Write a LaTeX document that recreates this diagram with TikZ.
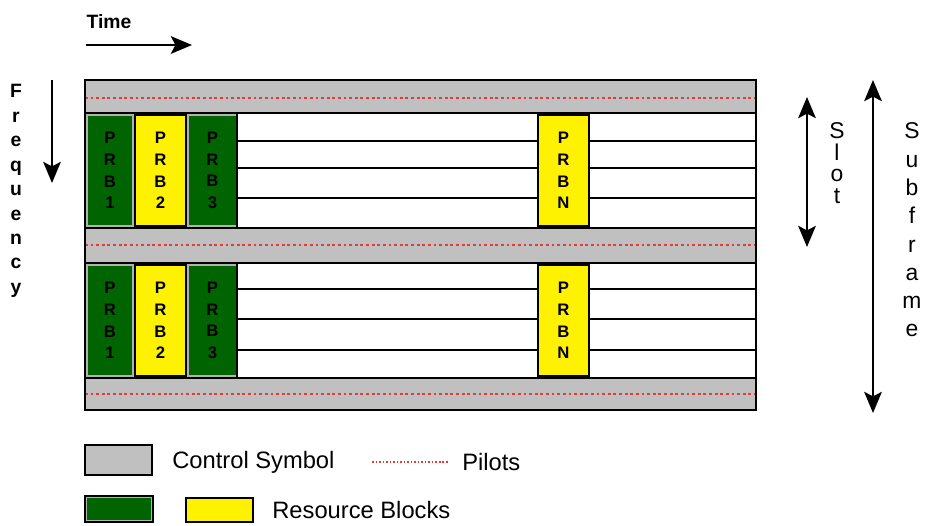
\documentclass[tikz,border=0pt]{standalone}
\usepackage{fontspec}
\setmainfont{Liberation Sans}
\usetikzlibrary{arrows.meta,positioning}
\usepackage{xcolor}
\definecolor{ctrlgray}{RGB}{192,192,192}
\definecolor{rbgreen}{RGB}{0,100,0}
\definecolor{pilotred}{RGB}{225,60,60}

\begin{document}
\begin{tikzpicture}[x=0.02cm,y=-0.02cm]
      \tikzstyle{band} = [fill=ctrlgray]
      \tikzstyle{pilot} = [draw=pilotred, line width=0.7pt, dash pattern=on 1.6pt off 1.6pt]
      \tikzstyle{prb} = [rectangle, inner sep=0pt, minimum height=2.22cm, align=center, font=\bfseries\fontsize{9.5}{12.3}\selectfont]
      \tikzstyle{prbg} = [prb, fill=rbgreen, draw=gray!60, line width=0.6pt]
      \tikzstyle{prby} = [prb, fill=yellow, draw=black, line width=0.6pt]
      \tikzstyle{arr} = [line width=1.2pt, -{Stealth[length=12pt, width=10pt, inset=2.5pt]}]
      \tikzstyle{darr} = [line width=1.2pt, {Stealth[length=12pt, width=10pt, inset=2.5pt]}-{Stealth[length=12pt, width=10pt, inset=2.5pt]}]
      \tikzstyle{legtext} = [anchor=west, inner sep=0pt, font=\fontsize{13.5}{16}\selectfont]
      
      \useasboundingbox (0,0) rectangle (926,525);
      
      \fill[band] (85,80) rectangle (756,113);
      \fill[band] (85,228) rectangle (756,263);
      \fill[band] (85,378) rectangle (756,410);
      \draw[pilot] (85,98) -- (756,98);
      \draw[pilot] (85,245) -- (756,245);
      \draw[pilot] (85,394) -- (756,394);
      \foreach \y in {113,228,263,378}
        \draw[line width=0.8pt] (85,\y) -- (756,\y);
      
      \node[prbg, minimum width=0.92cm] (prb1a) at (110,170.5) {P\\R\\B\\1};
      \node[prby, minimum width=1.02cm] (prb2a) at (160.5,170.5) {P\\R\\B\\2};
      \node[prbg, minimum width=0.98cm] (prb3a) at (212.5,170.5) {P\\R\\B\\3};
      \node[prby, minimum width=1.02cm] (prbNa) at (563.5,170.5) {P\\R\\B\\N};
      
      \node[prbg, minimum width=0.92cm] (prb1b) at (110,320.5) {P\\R\\B\\1};
      \node[prby, minimum width=1.02cm] (prb2b) at (160.5,320.5) {P\\R\\B\\2};
      \node[prbg, minimum width=0.98cm] (prb3b) at (212.5,320.5) {P\\R\\B\\3};
      \node[prby, minimum width=1.02cm] (prbNb) at (563.5,320.5) {P\\R\\B\\N};
      
      \draw[line width=0.8pt] (237,113) -- (237,228);
      \draw[line width=0.8pt] (237,263) -- (237,378);
      
      \foreach \y in {141,168,198} {
        \draw[line width=0.9pt] (prb3a.east |- 0,\y) -- (prbNa.west |- 0,\y);
        \draw[line width=0.9pt] (prbNa.east |- 0,\y) -- (756,\y);
      }
      \foreach \y in {289,319,350} {
        \draw[line width=0.9pt] (prb3b.east |- 0,\y) -- (prbNb.west |- 0,\y);
        \draw[line width=0.9pt] (prbNb.east |- 0,\y) -- (756,\y);
      }
      
      \draw[line width=0.9pt] (85,80) rectangle (756,410);
      
      \node[font=\bfseries\fontsize{11}{13}\selectfont] (time) at (109,22) {Time};
      \coordinate (t0) at (86,45);
      \coordinate (t1) at (192,45);
      \draw[arr] (t0) -- (t1);
      
      \node[align=center, font=\bfseries\fontsize{11}{13.9}\selectfont] (freq) at (16,191) {F\\r\\e\\q\\u\\e\\n\\c\\y};
      \coordinate (f0) at (52,80);
      \coordinate (f1) at (52,183);
      \draw[arr] (f0) -- (f1);
      
      \coordinate (s0) at (807,97);
      \coordinate (s1) at (807,247);
      \draw[darr] (s0) -- (s1);
      \node[align=center, font=\fontsize{13}{12.35}\selectfont] (slot) at (837,163) {S\\l\\o\\t};
      
      \coordinate (sf0) at (873,80);
      \coordinate (sf1) at (873,413);
      \draw[darr] (sf0) -- (sf1);
      \node[align=center, font=\fontsize{13}{16.1}\selectfont] (subframe) at (912,230) {S\\u\\b\\f\\r\\a\\m\\e};
      
      \node[rectangle, fill=ctrlgray, draw=black, line width=1pt, minimum width=1.34cm, minimum height=0.6cm, inner sep=0pt] (ctrlkey) at (118.5,460) {};
      \node[legtext] (ctrltext) at (172,462) {Control Symbol};
      \draw[pilot, dash pattern=on 1pt off 1pt] (372,462) -- (448,462);
      \node[legtext] (pilottext) at (462,462) {Pilots};
      
      \node[rectangle, fill=rbgreen, draw=black, line width=1pt, minimum width=1.36cm, minimum height=0.52cm, inner sep=0pt] (greenkey) at (119,509) {};
      \draw[gray!60, line width=0.5pt] ([shift={(1.2pt,-1.2pt)}]greenkey.north west) rectangle ([shift={(-1.2pt,1.2pt)}]greenkey.south east);
      \node[rectangle, fill=yellow, draw=black, line width=1pt, minimum width=1.34cm, minimum height=0.48cm, inner sep=0pt] (yellowkey) at (219.5,510) {};
      \node[legtext] (rbtext) at (272,510) {Resource Blocks};
    \end{tikzpicture}
\end{document}
